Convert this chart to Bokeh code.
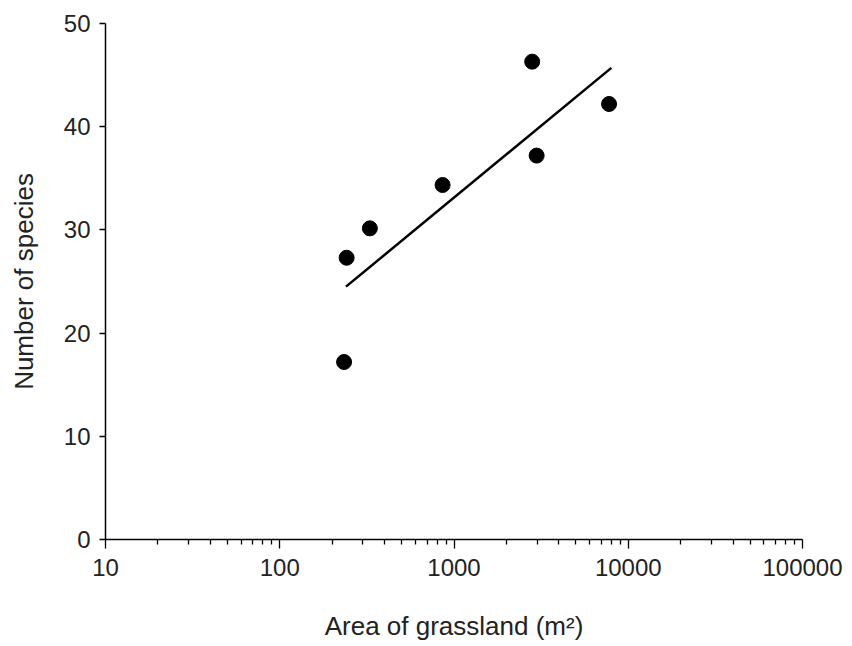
from bokeh.plotting import figure
from bokeh.models import Range1d, FixedTicker
from bokeh.embed import file_html
from bokeh.resources import INLINE

# data
area = [234, 242, 329, 860, 2810, 2980, 7760]
species = [17.2, 27.3, 30.15, 34.35, 46.3, 37.2, 42.2]
fit_area = [240, 8000]
fit_species = [24.5, 45.7]

x_ticks = [10, 100, 1000, 10000, 100000]
x_tick_labels = ["10", "100", "1000", "10000", "100000"]
x_minor = [m * d for d in [10, 100, 1000, 10000] for m in range(2, 10)]
y_ticks = [0, 10, 20, 30, 40, 50]

FONT = "Liberation Sans"
TXT = "#222222"

p = figure(width=850, height=644, x_axis_type="log",
           x_range=Range1d(10, 100000), y_range=Range1d(0, 50),
           output_backend="svg", toolbar_location=None,
           min_border_left=105, min_border_right=48,
           min_border_top=23, min_border_bottom=105)
p.outline_line_color = None
p.grid.visible = False
p.background_fill_color = "white"

p.line(fit_area, fit_species, line_color="black", line_width=2.5)
p.scatter(area, species, size=15, fill_color="black", line_color="black")

xa = p.xaxis[0]
xa.ticker = FixedTicker(ticks=x_ticks, minor_ticks=x_minor)
xa.major_label_overrides = {t: l for t, l in zip(x_ticks, x_tick_labels)}
xa.axis_label = "Area of grassland (m²)"
xa.major_tick_out = 9
xa.major_tick_in = 0
xa.minor_tick_out = 5
xa.minor_tick_in = 0
xa.major_label_standoff = 10
xa.axis_label_standoff = 32

ya = p.yaxis[0]
ya.ticker = FixedTicker(ticks=y_ticks, minor_ticks=[])
ya.axis_label = "Number of species"
ya.major_tick_out = 6
ya.major_tick_in = 0
ya.minor_tick_out = 0
ya.minor_tick_in = 0
ya.major_label_standoff = 9
ya.axis_label_standoff = 22

for ax in (xa, ya):
    ax.axis_line_color = "black"
    ax.axis_line_width = 1.5
    ax.major_tick_line_color = "black"
    ax.major_tick_line_width = 1.3
    ax.minor_tick_line_color = "black"
    ax.minor_tick_line_width = 1.3
    ax.major_label_text_font = FONT
    ax.major_label_text_font_size = "24px"
    ax.major_label_text_color = TXT
    ax.axis_label_text_font = FONT
    ax.axis_label_text_font_size = "26px"
    ax.axis_label_text_font_style = "normal"
    ax.axis_label_text_color = TXT

open("out.html", "w").write(file_html(p, INLINE))
